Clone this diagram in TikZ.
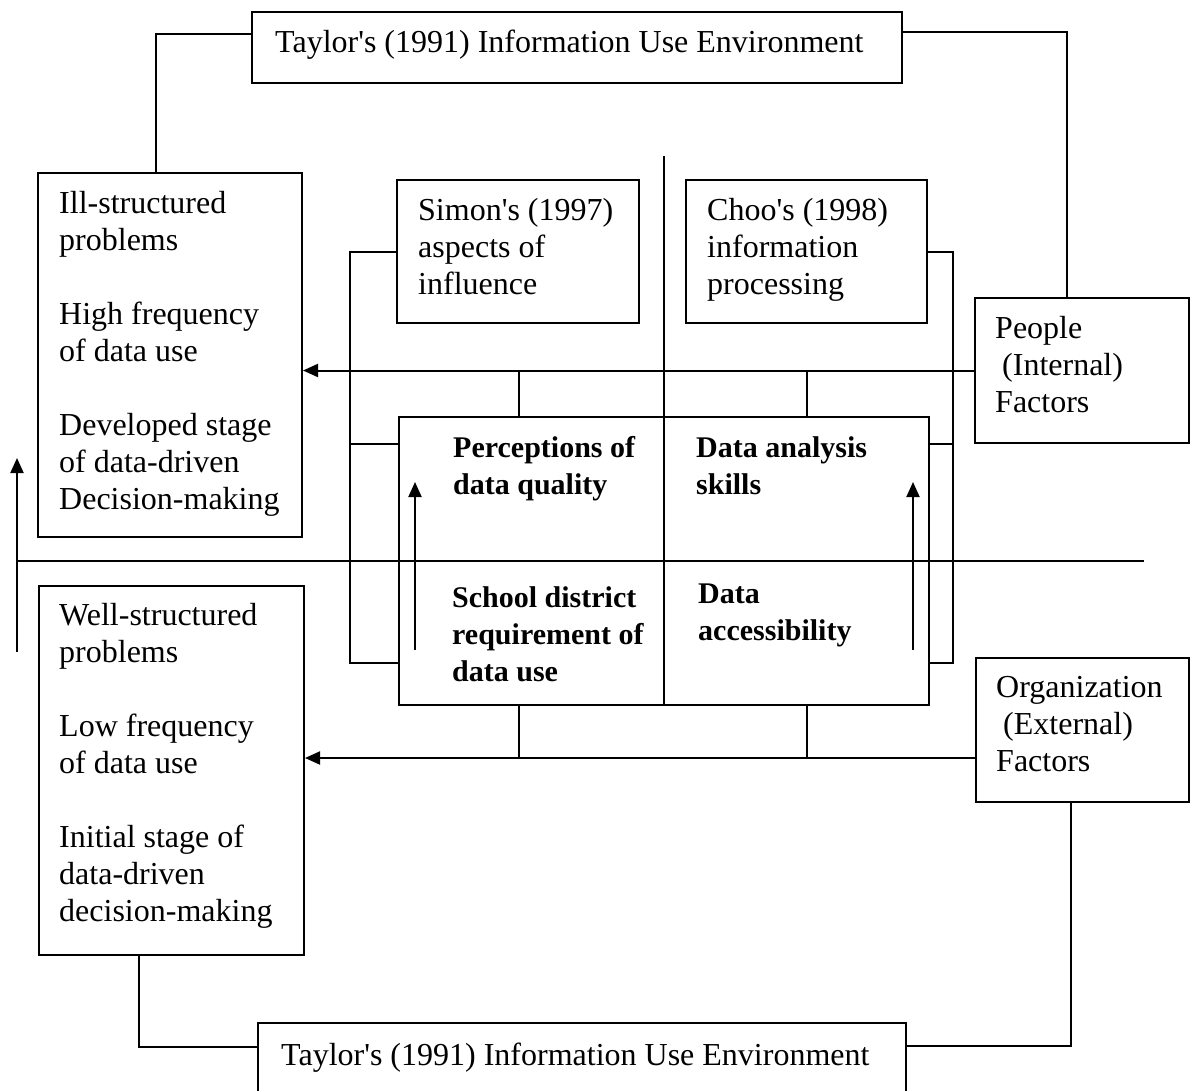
\documentclass[tikz,border=0pt]{standalone}
\usepackage{fontspec}
\setmainfont{Liberation Serif}
\usetikzlibrary{arrows.meta,calc}
\tikzset{
  box/.style={draw,line width=2pt,inner sep=0pt},
  txt/.style={anchor=north west,inner sep=0pt,align=left,font=\fontsize{32}{37}\selectfont},
  btxt/.style={txt,font=\fontsize{30}{37}\selectfont\bfseries},
  ln/.style={line width=2pt},
  arr/.style={-{Triangle[length=15pt,width=13pt]},line width=2pt},
}
\begin{document}
\begin{tikzpicture}[x=1pt,y=-1pt]
\useasboundingbox (0,0) rectangle (1190,1091);
\clip (0,0) rectangle (1190,1091);
\node[box,minimum width=650pt,minimum height=71pt] (taylorT) at (577,47.5) {};
\node[box,minimum width=264pt,minimum height=364pt] (ill) at (170,355) {};
\node[box,minimum width=242pt,minimum height=143pt] (simon) at (518,251.5) {};
\node[box,minimum width=241pt,minimum height=143pt] (choo) at (806.5,251.5) {};
\node[box,minimum width=214pt,minimum height=145pt] (people) at (1082,370.5) {};
\node[box,minimum width=530pt,minimum height=288pt] (core) at (664,561) {};
\node[box,minimum width=213pt,minimum height=144pt] (org) at (1082.5,730) {};
\node[box,minimum width=265pt,minimum height=369pt] (well) at (171.5,770.5) {};
\node[box,minimum width=648pt,minimum height=87pt] (taylorB) at (582,1066.5) {};

\node[txt] (taylorTt) at (275,30) {Taylor\textquotesingle s (1991) Information Use Environment};
\node[txt] (illt) at (59,191) {Ill-structured\\problems\\[37pt]High frequency\\of data use\\[37pt]Developed stage\\of data-driven\\Decision-making};
\node[txt] (simont) at (418,198) {Simon\textquotesingle s (1997)\\aspects of\\influence};
\node[txt] (choot) at (707,198) {Choo\textquotesingle s (1998)\\information\\processing};
\node[txt] (peoplet) at (995,316) {People\\\hspace*{7pt}(Internal)\\Factors};
\node[btxt] (perct) at (453,436) {Perceptions of\\data quality};
\node[btxt] (skillt) at (696,436) {Data analysis\\skills};
\node[btxt] (schoolt) at (452,586) {School district\\requirement of\\data use};
\node[btxt] (accesst) at (698,584) {Data\\accessibility};
\node[txt] (orgt) at (996,676) {Organization\\\hspace*{7pt}(External)\\Factors};
\node[txt] (wellt) at (59,603) {Well-structured\\problems\\[37pt]Low frequency\\of data use\\[37pt]Initial stage of\\data-driven\\decision-making};
\node[txt] (taylorBt) at (281,1043) {Taylor\textquotesingle s (1991) Information Use Environment};

\draw[ln] ([yshift=-23pt]taylorT.north west) -| ([xshift=119pt]ill.north west);
\draw[ln] ([yshift=-21pt]taylorT.north east) -| ([xshift=93pt]people.north west);
\draw[ln] ([xshift=101pt]well.south west) |- ([yshift=-25pt]taylorB.north west);
\draw[ln] ([xshift=96pt]org.south west) |- ([yshift=-24pt]taylorB.north east);

\draw[ln] (simon.west) -- ++(-46,0) coordinate (sb) |- ([yshift=43pt]core.south west);
\coordinate (c1) at ([yshift=-28pt]core.north west);
\draw[ln] (c1) -- (c1 -| sb);
\draw[ln] (choo.east) -- ++(25,0) coordinate (cb) |- ([yshift=43pt]core.south east);
\coordinate (c2) at ([yshift=-28pt]core.north east);
\draw[ln] (c2) -- (c2 -| cb);

\draw[arr] (people.west) -- (people.west -| ill.east);
\coordinate (o1) at ([yshift=-28pt]org.west);
\draw[arr] (o1) -- (o1 -| well.east);
\foreach \dx in {121,409} {
  \draw[ln] ([xshift=\dx pt]core.north west) -- ++(0,-45);
  \draw[ln] ([xshift=\dx pt]core.south west) -- ++(0,53);
}

\draw[ln] (core.south) -- ++(0,-550);
\coordinate (h1) at (17,561);
\coordinate (h2) at (1144,561);
\draw[ln] (h1) -- (h2);
\foreach \x/\a/\b in {17/652/458,415/650/482,913/650/482}
  \draw[arr] (\x,\a) -- (\x,\b);
\end{tikzpicture}
\end{document}
